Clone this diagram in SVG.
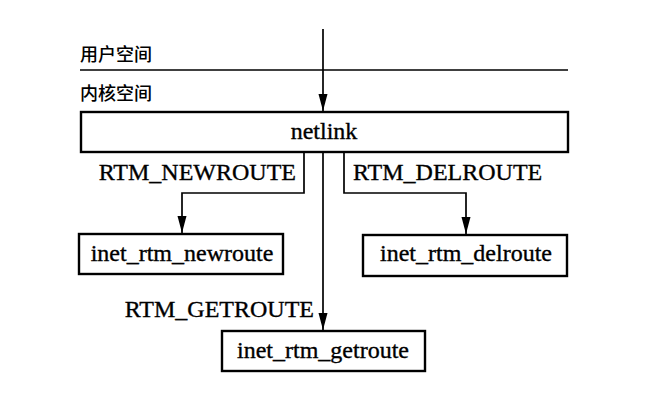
<svg xmlns="http://www.w3.org/2000/svg" width="653" height="412" viewBox="0 0 653 412">
<style>
.box{fill:#fff;stroke:#000;stroke-width:2.4}
.t{font-family:"Liberation Serif","Times New Roman",serif;font-size:24px;fill:#000;stroke:#000;stroke-width:0.35}
.c{font-family:"Noto Sans CJK SC","Noto Sans CJK JP",sans-serif;font-size:18px;font-weight:500;fill:#000}
.ln{fill:none;stroke:#000;stroke-width:1.7}
</style>
<defs>
<marker id="ah" markerWidth="17" markerHeight="10" refX="17" refY="5" orient="auto" markerUnits="userSpaceOnUse">
<path d="M0,0.5 L17,5 L0,9.5 Z" fill="#000"/>
</marker>
</defs>
<rect width="653" height="412" fill="#fff"/>
<g id="space-labels">
<text class="c" x="80" y="61">用户空间</text>
<line class="ln" x1="80" y1="70" x2="568" y2="70"/>
<text class="c" x="80" y="100">内核空间</text>
</g>
<g id="netlink">
<rect class="box" x="81" y="112" width="487" height="40"/>
<text class="t" x="324" y="139" text-anchor="middle">netlink</text>
</g>
<g id="newroute">
<rect class="box" x="79" y="234" width="204" height="40"/>
<text class="t" x="182" y="261" text-anchor="middle">inet_rtm_newroute</text>
</g>
<g id="delroute">
<rect class="box" x="363" y="235" width="204" height="41"/>
<text class="t" x="466" y="261" text-anchor="middle">inet_rtm_delroute</text>
</g>
<g id="getroute">
<rect class="box" x="222" y="331" width="203" height="40"/>
<text class="t" x="323" y="358" text-anchor="middle">inet_rtm_getroute</text>
</g>
<g id="connectors">
<line class="ln" x1="323" y1="29" x2="323" y2="111" marker-end="url(#ah)"/>
<polyline class="ln" points="304,152 304,193 182,193 182,233" marker-end="url(#ah)"/>
<polyline class="ln" points="344,152 344,193 466,193 466,234" marker-end="url(#ah)"/>
<line class="ln" x1="323" y1="152" x2="323" y2="330" marker-end="url(#ah)"/>
<text class="t" x="296" y="180" text-anchor="end">RTM_NEWROUTE</text>
<text class="t" x="353" y="180">RTM_DELROUTE</text>
<text class="t" x="314" y="317" text-anchor="end">RTM_GETROUTE</text>
</g>
</svg>
